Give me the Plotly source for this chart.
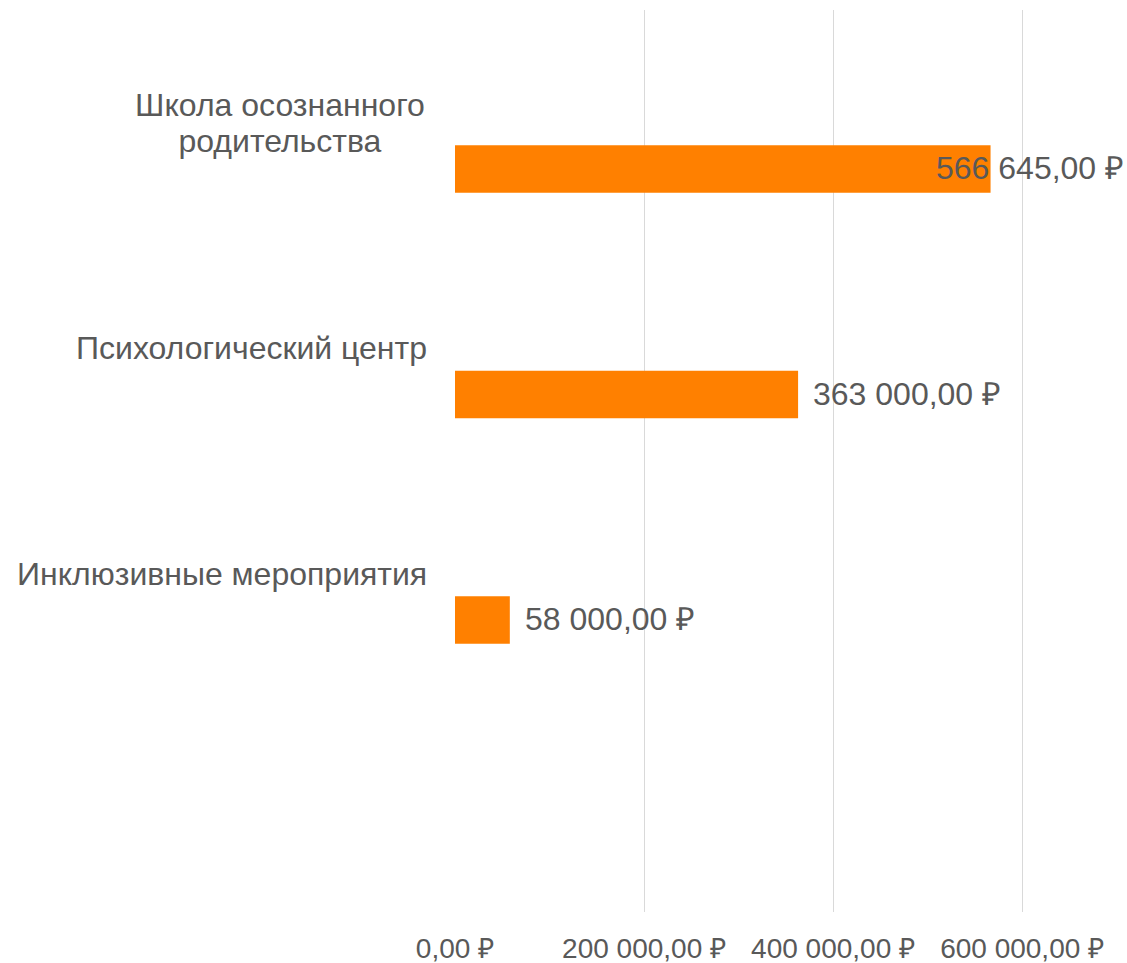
import plotly.graph_objects as go

categories = ["Школа осознанного<br>родительства", "Психологический центр", "Инклюзивные мероприятия"]
values = [566645, 363000, 58000]
value_labels = ["566 645,00 ₽", "363 000,00 ₽", "58 000,00 ₽"]
tick_values = [0, 200000, 400000, 600000]
tick_labels = ["0,00 ₽", "200 000,00 ₽", "400 000,00 ₽", "600 000,00 ₽"]

FONT = "Liberation Sans, Arial, sans-serif"
GRAY = "#595959"
X_MAX = 711000
LINE_H = 36
WRAP_BOX = 294

fig = go.Figure()
fig.add_trace(go.Bar(
    y=categories, x=values, orientation="h",
    marker=dict(color="#FF8000", line=dict(width=0)),
    width=0.21, offset=0.1,
    hoverinfo="skip",
))

annotations = []
for cat in categories:
    lines = cat.split("<br>")
    n = len(lines)
    for i, ln in enumerate(lines):
        a = dict(
            x=0, xref="paper", xanchor="right", xshift=-26,
            y=cat, yref="y", yanchor="middle",
            yshift=((n - 1) / 2 - i) * LINE_H,
            text=ln, showarrow=False, align="center",
            font=dict(family=FONT, size=32, color=GRAY),
        )
        if n > 1:
            a["width"] = WRAP_BOX
        annotations.append(a)

for cat, v, lab in zip(categories, values, value_labels):
    if v > 0.75 * X_MAX:
        a = dict(x=1, xref="paper", xanchor="right", xshift=-1)
    else:
        a = dict(x=v, xref="x", xanchor="left", xshift=13)
    a.update(y=cat, yref="y", yanchor="middle", yshift=-45.5,
             text=lab, showarrow=False,
             font=dict(family=FONT, size=32, color=GRAY))
    annotations.append(a)

fig.update_layout(
    width=1127, height=963,
    margin=dict(l=455, r=0, t=10, b=51),
    plot_bgcolor="white", paper_bgcolor="white",
    showlegend=False,
    annotations=annotations,
    xaxis=dict(
        range=[0, X_MAX], tickvals=tick_values, ticktext=tick_labels,
        showgrid=True, gridcolor="#d9d9d9", gridwidth=1,
        zeroline=False, showline=False,
        ticks="", ticklabelstandoff=17,
        tickfont=dict(family=FONT, size=28, color=GRAY),
    ),
    yaxis=dict(
        type="category", categoryorder="array", categoryarray=categories,
        range=[3.5, -0.5], showticklabels=False, showgrid=False,
        zeroline=False, showline=False, ticks="",
    ),
)

fig.write_html("out.html", config={"displayModeBar": False},
               post_script="document.body.style.margin='0';")
